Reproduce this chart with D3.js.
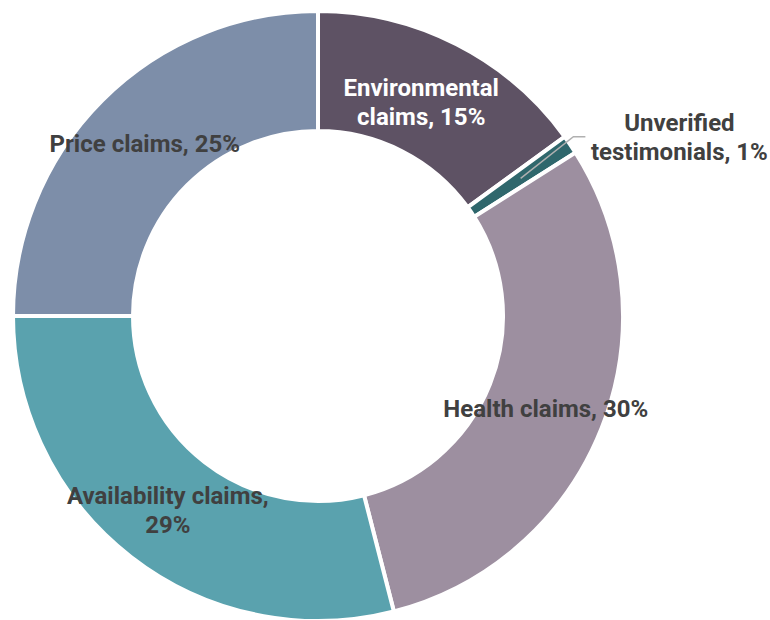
<!DOCTYPE html>
<html>
<head>
<meta charset="utf-8">
<script src="https://cdn.jsdelivr.net/npm/d3@7"></script>
<style>
  html, body { margin: 0; padding: 0; background: #fff; }
  svg { display: block; }
</style>
</head>
<body>
<svg id="chart" width="770" height="620"></svg>
<script>
const categories = ["Environmental claims", "Unverified testimonials", "Health claims", "Availability claims", "Price claims"];
const values = [15, 1, 30, 29, 25];
const labelLines = [
  ["Environmental", "claims, 15%"],
  ["Unverified", "testimonials, 1%"],
  ["Health claims, 30%"],
  ["Availability claims,", "29%"],
  ["Price claims, 25%"]
];
const colors = ["#5e5264", "#2f676c", "#9d8fa0", "#5aa2ae", "#7d8ea9"];
const labelColors = ["#ffffff", "#404040", "#404040", "#404040", "#404040"];
// small manual nudges of label anchors (px)
const labelNudgeX = [-8, 0, 0, 0, 0];
const labelNudgeY = [4, 0, 2, 0, 0];

const svg = d3.select("#chart");
const cx = 318, cy = 316, outerR = 305, innerR = 185;
const g = svg.append("g").attr("transform", `translate(${cx},${cy})`);

const data = categories.map((c, i) => ({ name: c, value: values[i], i }));
const pie = d3.pie().value(d => d.value).sort(null);
const arcs = pie(data);
const arc = d3.arc().innerRadius(innerR).outerRadius(outerR);
const midR = (innerR + outerR) / 2;
const midArc = d3.arc().innerRadius(midR).outerRadius(midR);

g.selectAll("path.slice").data(arcs).join("path")
  .attr("class", "slice")
  .attr("d", arc)
  .attr("fill", d => colors[d.data.i])
  .attr("stroke", "#ffffff")
  .attr("stroke-width", 4);

const font = "Roboto, 'Noto Sans', sans-serif";
const lineH = 29;

arcs.forEach(a => {
  const i = a.data.i;
  const lines = labelLines[i];
  let [x, y] = midArc.centroid(a);
  if (a.data.value < 5) {
    const ang = (a.startAngle + a.endAngle) / 2 - 0.015;
    const ox = Math.sin(ang) * (outerR + 7), oy = -Math.cos(ang) * (outerR + 7);
    g.append("polyline")
      .attr("points", `${x},${y} ${ox},${oy} ${ox + 12},${oy}`)
      .attr("fill", "none")
      .attr("stroke", "#b0b0b0")
      .attr("stroke-width", 1.5);
    x = ox + 106;
    y = oy;
  }
  x += labelNudgeX[i];
  y += labelNudgeY[i];
  const t = g.append("text")
    .attr("text-anchor", "middle")
    .attr("font-family", font)
    .attr("font-weight", 700)
    .attr("font-size", 24)
    .attr("fill", labelColors[i]);
  const y0 = y - (lines.length - 1) * lineH / 2 + 9;
  lines.forEach((ln, k) => {
    t.append("tspan").attr("x", x).attr("y", y0 + k * lineH).text(ln);
  });
});
</script>
</body>
</html>
